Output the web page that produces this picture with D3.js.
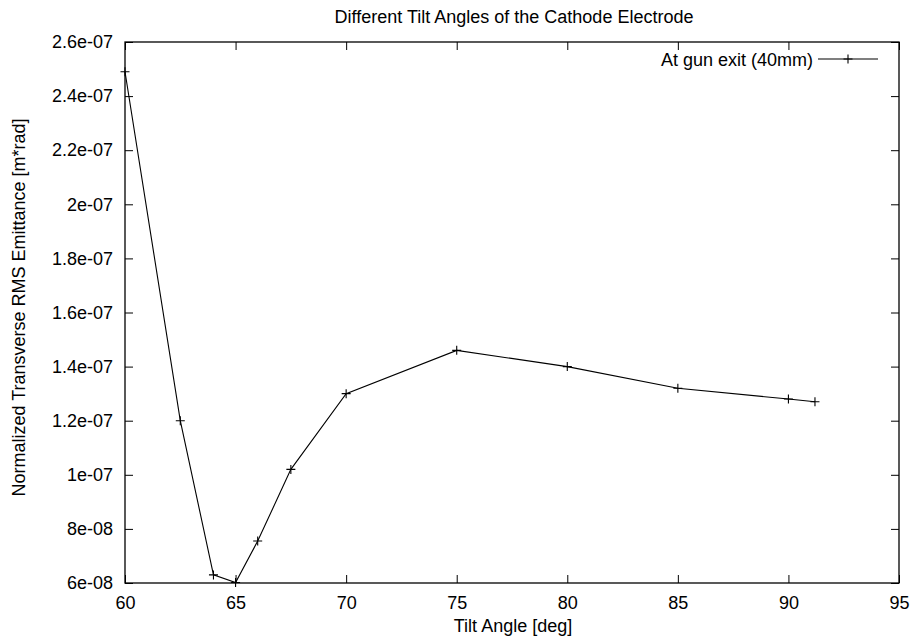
<!DOCTYPE html>
<html>
<head>
<meta charset="utf-8">
<script src="https://cdn.jsdelivr.net/npm/d3@7"></script>
<style>
  html, body { margin: 0; padding: 0; background: #fff; }
  svg text { font-family: "Liberation Sans", Arial, Helvetica, sans-serif; fill: #000; }
</style>
</head>
<body>
<svg id="chart" width="913" height="643"></svg>
<script>
// Tilt angle of the cathode electrode [deg]
const tiltAngles = [60, 62.5, 64, 65, 66, 67.5, 70, 75, 80, 85, 90, 91.2];
// Normalized transverse RMS emittance at gun exit (40mm) [m*rad]
const emittance = [2.49e-7, 1.2e-7, 6.3e-8, 6.02e-8, 7.55e-8, 1.02e-7, 1.3e-7, 1.46e-7, 1.4e-7, 1.32e-7, 1.28e-7, 1.27e-7];

const xTicks = [60, 65, 70, 75, 80, 85, 90, 95];
const yTicks = [6e-8, 8e-8, 1e-7, 1.2e-7, 1.4e-7, 1.6e-7, 1.8e-7, 2e-7, 2.2e-7, 2.4e-7, 2.6e-7];
const yTickLabels = ["6e-08", "8e-08", "1e-07", "1.2e-07", "1.4e-07", "1.6e-07", "1.8e-07", "2e-07", "2.2e-07", "2.4e-07", "2.6e-07"];

const titleText = "Different Tilt Angles of the Cathode Electrode";
const xLabelText = "Tilt Angle [deg]";
const yLabelText = "Normalized Transverse RMS Emittance [m*rad]";
const seriesName = "At gun exit (40mm)";

const svg = d3.select("#chart");
const margin = { left: 125, right: 14, top: 42, bottom: 60 };
const W = 913, H = 643;
const fs = 18;

const x = d3.scaleLinear().domain([60, 95]).range([margin.left, W - margin.right]);
const y = d3.scaleLinear().domain([6e-8, 2.6e-7]).range([H - margin.bottom, margin.top]);

const x0 = x.range()[0], x1 = x.range()[1];
const y0 = y.range()[0], y1 = y.range()[1];
const tickLen = 8;

// Axes with inward ticks, mirrored on the opposite sides
const bottomAxis = d3.axisBottom(x).tickValues(xTicks).tickSizeInner(-tickLen).tickSizeOuter(0).tickPadding(13).tickFormat(d3.format("d"));
const leftAxis = d3.axisLeft(y).tickValues(yTicks).tickSizeInner(-tickLen).tickSizeOuter(0).tickPadding(12)
  .tickFormat((d, i) => yTickLabels[i]);
const topAxis = d3.axisTop(x).tickValues(xTicks).tickSizeInner(-tickLen).tickSizeOuter(0).tickFormat("");
const rightAxis = d3.axisRight(y).tickValues(yTicks).tickSizeInner(-tickLen).tickSizeOuter(0).tickFormat("");

function styleAxis(g) {
  g.select(".domain").remove();
  g.selectAll(".tick line").attr("stroke", "#000").attr("stroke-width", 1);
  g.selectAll(".tick text").style("font-size", fs + "px").attr("fill", "#000");
}

svg.append("g").attr("transform", `translate(0,${y0})`).call(bottomAxis).call(styleAxis);
svg.append("g").attr("transform", `translate(${x0},0)`).call(leftAxis).call(styleAxis);
svg.append("g").attr("transform", `translate(0,${y1})`).call(topAxis).call(styleAxis);
svg.append("g").attr("transform", `translate(${x1},0)`).call(rightAxis).call(styleAxis);

// Plot border
svg.append("rect")
  .attr("x", x0).attr("y", y1)
  .attr("width", x1 - x0).attr("height", y0 - y1)
  .attr("fill", "none").attr("stroke", "#000").attr("stroke-width", 1.3);

// Data line
const pts = tiltAngles.map((a, i) => [a, emittance[i]]);
svg.append("path")
  .datum(pts)
  .attr("fill", "none")
  .attr("stroke", "#000")
  .attr("stroke-width", 1.1)
  .attr("d", d3.line().x(d => x(d[0])).y(d => y(d[1])));

// Point markers (plus signs)
const ps = 4.5;
function plus(g, cx, cy) {
  g.append("path")
    .attr("d", `M${cx - ps},${cy}H${cx + ps}M${cx},${cy - ps}V${cy + ps}`)
    .attr("stroke", "#000").attr("stroke-width", 1.1).attr("fill", "none");
}
const marks = svg.append("g");
pts.forEach(d => plus(marks, x(d[0]), y(d[1])));

// Title and axis labels
svg.append("text")
  .attr("x", (x0 + x1) / 2 + 2).attr("y", 23)
  .attr("text-anchor", "middle").style("font-size", fs + "px")
  .text(titleText);

svg.append("text")
  .attr("x", (x0 + x1) / 2 + 1).attr("y", 632)
  .attr("text-anchor", "middle").style("font-size", fs + "px")
  .text(xLabelText);

svg.append("text")
  .attr("transform", `translate(25,${(y0 + y1) / 2 - 5}) rotate(-90)`)
  .attr("text-anchor", "middle").style("font-size", fs + "px")
  .text(yLabelText);

// Legend
const legY = 59;
svg.append("text")
  .attr("x", 813).attr("y", legY + 7)
  .attr("text-anchor", "end").style("font-size", fs + "px")
  .text(seriesName);
svg.append("line")
  .attr("x1", 818).attr("x2", 878).attr("y1", legY).attr("y2", legY)
  .attr("stroke", "#000").attr("stroke-width", 1.1);
plus(svg, 848, legY);
</script>
</body>
</html>
